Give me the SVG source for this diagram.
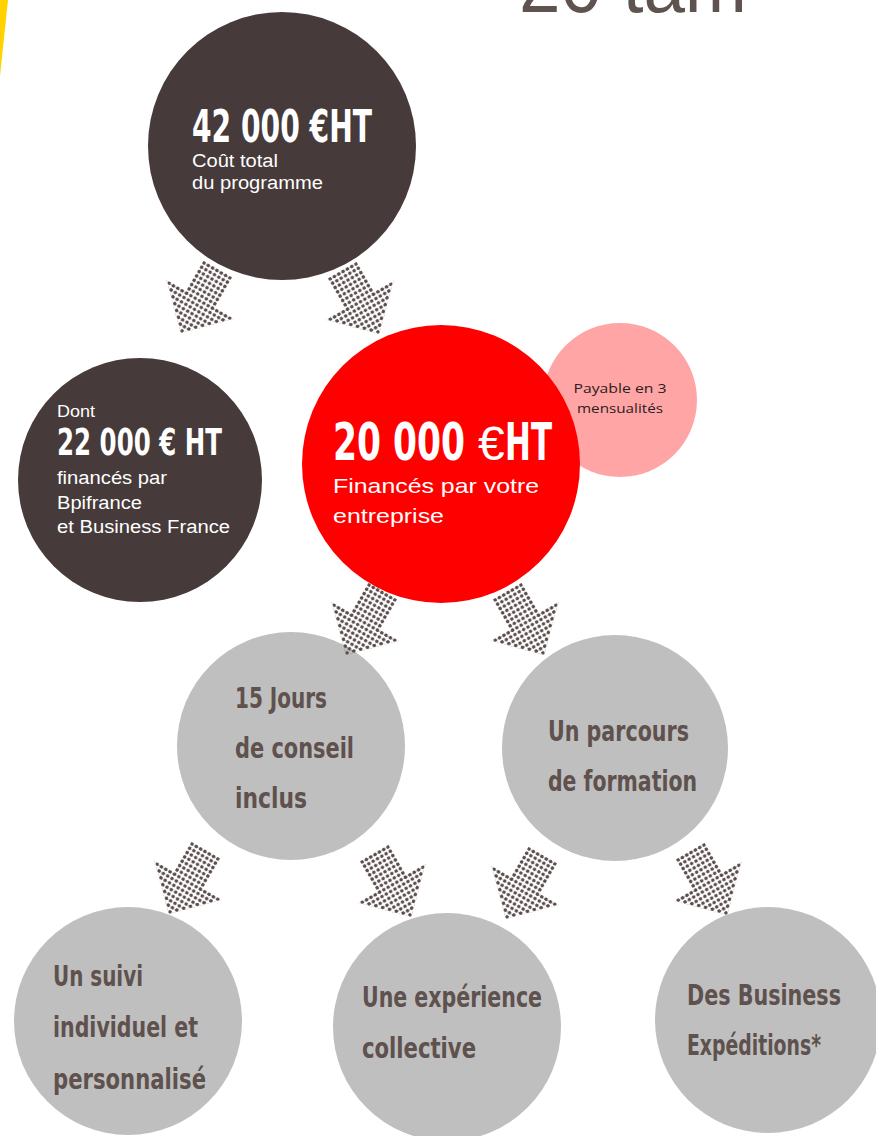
<svg xmlns="http://www.w3.org/2000/svg" width="876" height="1136" viewBox="0 0 876 1136">
<style>
.big{font-family:"Liberation Sans Narrow","DejaVu Sans Condensed","Liberation Sans",sans-serif;font-weight:bold;fill:#ffffff}
.reg{font-family:"Liberation Sans",Arial,sans-serif;fill:#ffffff}
.gt{font-family:"Liberation Sans Narrow","DejaVu Sans Condensed","Liberation Sans",sans-serif;font-weight:bold;fill:#5e514e;font-size:29px}
.dark{fill:#463a3a}
.gray{fill:#bfbfbf}
.arrow{fill:url(#dots);stroke:url(#dots);stroke-width:3.6;stroke-linejoin:miter}
</style>
<defs>
<pattern id="dots" patternUnits="userSpaceOnUse" x="-2.5" y="-2.5" width="5" height="5">
<circle cx="2.5" cy="2.5" r="1.8" fill="#5a4d4b"/>
</pattern>
<path id="arr" d="M-15,-70 L15,-70 L15,-35 L35,-35 L0,0 L-35,-35 L-15,-35 Z"/>
</defs>
<rect width="876" height="1136" fill="#ffffff"/>
<polygon points="0,0 8,0 0,76" fill="#ffd200"/>
<text x="519" y="12" font-family="Liberation Sans,Arial,sans-serif" font-size="80" fill="#5f534f" textLength="228" lengthAdjust="spacingAndGlyphs">20 tam</text>

<g id="node-pink">
<circle cx="620" cy="400" r="77" fill="#ffa5a5"/>
<text x="620" y="393" text-anchor="middle" font-family="Open Sans,Noto Sans,sans-serif" font-size="13" fill="#2a2020" textLength="93" lengthAdjust="spacingAndGlyphs">Payable en 3</text>
<text x="620" y="413" text-anchor="middle" font-family="Open Sans,Noto Sans,sans-serif" font-size="13" fill="#2a2020" textLength="86" lengthAdjust="spacingAndGlyphs">mensualités</text>
</g>

<g id="node-total">
<circle class="dark" cx="282" cy="146" r="134"/>
<text class="big" x="192" y="142" font-size="44" textLength="180" lengthAdjust="spacingAndGlyphs">42 000 €HT</text>
<text class="reg" x="192" y="167" font-size="18" textLength="86" lengthAdjust="spacingAndGlyphs">Coût total</text>
<text class="reg" x="192" y="189" font-size="18" textLength="131" lengthAdjust="spacingAndGlyphs">du programme</text>
</g>

<g id="node-bpi">
<circle class="dark" cx="140" cy="480" r="122"/>
<text class="reg" x="57" y="417" font-size="16" textLength="38" lengthAdjust="spacingAndGlyphs">Dont</text>
<text class="big" x="57" y="455" font-size="37" textLength="165" lengthAdjust="spacingAndGlyphs">22 000 € HT</text>
<text class="reg" x="57" y="484" font-size="18" textLength="110" lengthAdjust="spacingAndGlyphs">financés par</text>
<text class="reg" x="57" y="509" font-size="18" textLength="85" lengthAdjust="spacingAndGlyphs">Bpifrance</text>
<text class="reg" x="57" y="533" font-size="18" textLength="173" lengthAdjust="spacingAndGlyphs">et Business France</text>
</g>

<g id="node-entreprise">
<circle cx="441" cy="464" r="139" fill="#ff0000"/>
<text class="big" x="333" y="460" font-size="51" textLength="132" lengthAdjust="spacingAndGlyphs">20 000</text>
<text class="reg" x="478" y="460" font-size="48">€</text>
<text class="big" x="505" y="460" font-size="51" textLength="47" lengthAdjust="spacingAndGlyphs">HT</text>
<text class="reg" x="333" y="493" font-size="21" textLength="206" lengthAdjust="spacingAndGlyphs">Financés par votre</text>
<text class="reg" x="333" y="523" font-size="21" textLength="111" lengthAdjust="spacingAndGlyphs">entreprise</text>
</g>

<g id="node-conseil">
<circle class="gray" cx="291" cy="746" r="114"/>
<text class="gt" x="235" y="708" textLength="92" lengthAdjust="spacingAndGlyphs">15 Jours</text>
<text class="gt" x="235" y="758" textLength="119" lengthAdjust="spacingAndGlyphs">de conseil</text>
<text class="gt" x="235" y="808" textLength="72" lengthAdjust="spacingAndGlyphs">inclus</text>
</g>

<g id="node-formation">
<circle class="gray" cx="615" cy="748" r="113"/>
<text class="gt" x="548" y="741" textLength="141" lengthAdjust="spacingAndGlyphs">Un parcours</text>
<text class="gt" x="548" y="791" textLength="149" lengthAdjust="spacingAndGlyphs">de formation</text>
</g>

<g id="node-suivi">
<circle class="gray" cx="128" cy="1021" r="114"/>
<text class="gt" x="53" y="986" textLength="90" lengthAdjust="spacingAndGlyphs">Un suivi</text>
<text class="gt" x="53" y="1037" textLength="145" lengthAdjust="spacingAndGlyphs">individuel et</text>
<text class="gt" x="53" y="1089" textLength="153" lengthAdjust="spacingAndGlyphs">personnalisé</text>
</g>

<g id="node-collective">
<circle class="gray" cx="447" cy="1027" r="114"/>
<text class="gt" x="362" y="1007" textLength="180" lengthAdjust="spacingAndGlyphs">Une expérience</text>
<text class="gt" x="362" y="1058" textLength="114" lengthAdjust="spacingAndGlyphs">collective</text>
</g>

<g id="node-expeditions">
<circle class="gray" cx="768" cy="1020" r="113"/>
<text class="gt" x="687" y="1005" textLength="154" lengthAdjust="spacingAndGlyphs">Des Business</text>
<text class="gt" x="687" y="1055" textLength="134" lengthAdjust="spacingAndGlyphs">Expéditions*</text>
</g>

<g id="connectors">
<use href="#arr" class="arrow" transform="translate(182,331) rotate(30)"/>
<use href="#arr" class="arrow" transform="translate(378,332) rotate(-30)"/>
<use href="#arr" class="arrow" transform="translate(347,653) rotate(30)"/>
<use href="#arr" class="arrow" transform="translate(543,653) rotate(-30)"/>
<use href="#arr" class="arrow" transform="translate(170,912) rotate(30)"/>
<use href="#arr" class="arrow" transform="translate(410,915) rotate(-30)"/>
<use href="#arr" class="arrow" transform="translate(507,917) rotate(30)"/>
<use href="#arr" class="arrow" transform="translate(726,913) rotate(-30)"/>
</g>
</svg>
